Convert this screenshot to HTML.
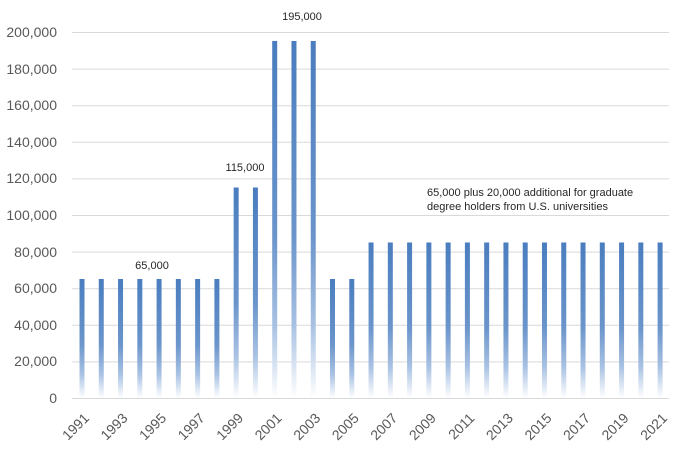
<!DOCTYPE html>
<html><head><style>body{margin:0;background:#fff}svg{display:block}text{font-family:"Liberation Sans",sans-serif}</style></head><body>
<svg width="677" height="456" xmlns="http://www.w3.org/2000/svg">
<defs><linearGradient id="g" x1="0" y1="0" x2="0" y2="1"><stop offset="0" stop-color="#4a7dbf"/><stop offset="0.55" stop-color="#6b95cb"/><stop offset="0.8" stop-color="#a9c2e3"/><stop offset="1" stop-color="#ffffff"/></linearGradient></defs>
<g stroke="#d9d9d9" stroke-width="1">
<line x1="72" x2="669" y1="32.5" y2="32.5"/><line x1="72" x2="669" y1="69.1" y2="69.1"/><line x1="72" x2="669" y1="105.7" y2="105.7"/><line x1="72" x2="669" y1="142.3" y2="142.3"/><line x1="72" x2="669" y1="178.9" y2="178.9"/><line x1="72" x2="669" y1="215.5" y2="215.5"/><line x1="72" x2="669" y1="252.1" y2="252.1"/><line x1="72" x2="669" y1="288.7" y2="288.7"/><line x1="72" x2="669" y1="325.3" y2="325.3"/><line x1="72" x2="669" y1="361.9" y2="361.9"/><line x1="72" x2="669" y1="398.5" y2="398.5"/>
</g>
<g font-size="14" fill="#595959" text-anchor="end">
<text x="57" y="37">200,000</text><text x="57" y="74">180,000</text><text x="57" y="110">160,000</text><text x="57" y="147">140,000</text><text x="57" y="183">120,000</text><text x="57" y="220">100,000</text><text x="57" y="257">80,000</text><text x="57" y="293">60,000</text><text x="57" y="330">40,000</text><text x="57" y="366">20,000</text><text x="57" y="403">0</text>
</g>
<g fill="url(#g)">
<rect x="79.5" y="279" width="5" height="119"/>
<rect x="98.77" y="279" width="5" height="119"/>
<rect x="118.04" y="279" width="5" height="119"/>
<rect x="137.31" y="279" width="5" height="119"/>
<rect x="156.58" y="279" width="5" height="119"/>
<rect x="175.85" y="279" width="5" height="119"/>
<rect x="195.12" y="279" width="5" height="119"/>
<rect x="214.39" y="279" width="5" height="119"/>
<rect x="233.66" y="187.5" width="5" height="210.5"/>
<rect x="252.93" y="187.5" width="5" height="210.5"/>
<rect x="272.2" y="41" width="5" height="357"/>
<rect x="291.47" y="41" width="5" height="357"/>
<rect x="310.74" y="41" width="5" height="357"/>
<rect x="330.01" y="279" width="5" height="119"/>
<rect x="349.28" y="279" width="5" height="119"/>
<rect x="368.55" y="242.5" width="5" height="155.5"/>
<rect x="387.82" y="242.5" width="5" height="155.5"/>
<rect x="407.09" y="242.5" width="5" height="155.5"/>
<rect x="426.36" y="242.5" width="5" height="155.5"/>
<rect x="445.63" y="242.5" width="5" height="155.5"/>
<rect x="464.9" y="242.5" width="5" height="155.5"/>
<rect x="484.17" y="242.5" width="5" height="155.5"/>
<rect x="503.44" y="242.5" width="5" height="155.5"/>
<rect x="522.71" y="242.5" width="5" height="155.5"/>
<rect x="541.98" y="242.5" width="5" height="155.5"/>
<rect x="561.25" y="242.5" width="5" height="155.5"/>
<rect x="580.52" y="242.5" width="5" height="155.5"/>
<rect x="599.79" y="242.5" width="5" height="155.5"/>
<rect x="619.06" y="242.5" width="5" height="155.5"/>
<rect x="638.33" y="242.5" width="5" height="155.5"/>
<rect x="657.6" y="242.5" width="5" height="155.5"/>
</g>
<g font-size="14" fill="#595959" text-anchor="end">
<text transform="translate(90,419) rotate(-45)">1991</text>
<text transform="translate(128.54,419) rotate(-45)">1993</text>
<text transform="translate(167.08,419) rotate(-45)">1995</text>
<text transform="translate(205.62,419) rotate(-45)">1997</text>
<text transform="translate(244.16,419) rotate(-45)">1999</text>
<text transform="translate(282.7,419) rotate(-45)">2001</text>
<text transform="translate(321.24,419) rotate(-45)">2003</text>
<text transform="translate(359.78,419) rotate(-45)">2005</text>
<text transform="translate(398.32,419) rotate(-45)">2007</text>
<text transform="translate(436.86,419) rotate(-45)">2009</text>
<text transform="translate(475.4,419) rotate(-45)">2011</text>
<text transform="translate(513.94,419) rotate(-45)">2013</text>
<text transform="translate(552.48,419) rotate(-45)">2015</text>
<text transform="translate(591.02,419) rotate(-45)">2017</text>
<text transform="translate(629.56,419) rotate(-45)">2019</text>
<text transform="translate(668.1,419) rotate(-45)">2021</text>
</g>
<g font-size="11" fill="#262626" text-anchor="middle">
<text x="152" y="269">65,000</text><text x="245" y="171">115,000</text><text x="302" y="20">195,000</text>
</g>
<g font-size="11" fill="#262626"><text x="427" y="196">65,000 plus 20,000 additional for graduate</text><text x="427" y="210">degree holders from U.S. universities</text></g>
</svg>
</body></html>
